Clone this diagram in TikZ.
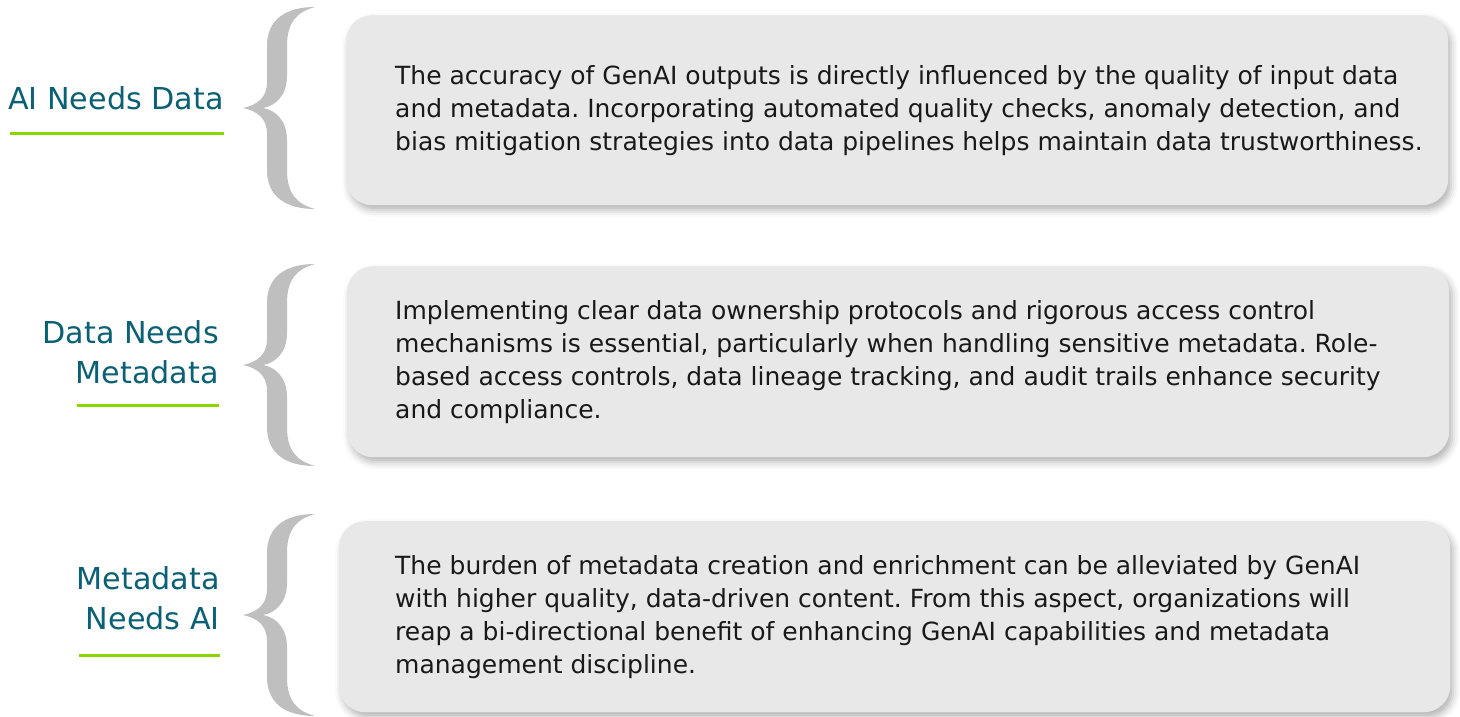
\documentclass[tikz,border=0pt]{standalone}
\usepackage{fontspec}
\setmainfont{DejaVu Sans}
\frenchspacing
\usetikzlibrary{positioning, shadows.blur}
\definecolor{tealText}{RGB}{10,96,116}
\definecolor{limeLine}{RGB}{140,214,0}
\definecolor{braceGray}{RGB}{191,191,191}
\definecolor{boxFill}{RGB}{232,232,232}
\newcommand*{\curlyBrace}[2]{% tip x, tip y
    \fill [braceGray, shift={(#1,#2)}] (0,0) .. controls (14,-3) and (24,-10) .. (24,-26) -- (24,-62)
        .. controls (24,-88) and (42,-101) .. (72,-101) .. controls (54,-96) and (44,-86) .. (44,-62) -- (44,-32)
        .. controls (44,-12) and (32,-2) .. (20,0) .. controls (32,2) and (44,12) .. (44,32) -- (44,62)
        .. controls (44,86) and (54,96) .. (72,101) .. controls (42,101) and (24,88) .. (24,62) -- (24,26)
        .. controls (24,10) and (14,3) .. (0,0) -- cycle;
}
\tikzset{
    infobox/.style={rectangle, rounded corners=26pt, fill=boxFill, anchor=north west, inner sep=0pt,
        blur shadow={shadow xshift=3pt, shadow yshift=-5pt, shadow blur radius=7pt, shadow opacity=30}},
    bodytext/.style={align=left, inner sep=0pt, anchor=west, text=black!90,
        font=\fontsize{25pt}{33pt}\selectfont},
    labeltext/.style={align=right, inner sep=0pt, anchor=base east, text=tealText,
        font=\fontsize{30.2pt}{40pt}\selectfont},
    underline/.style={limeLine, line width=3pt}
}

\begin{document}
\begin{tikzpicture}[x=1pt, y=-1pt]
\useasboundingbox (0,0) rectangle (1460,717);
% boxes
\node (box1) [infobox, minimum width=1102pt, minimum height=190pt] at (346,15) {};
\node (box2) [infobox, minimum width=1102pt, minimum height=191pt] at (347,266) {};
\node (box3) [infobox, minimum width=1111pt, minimum height=191pt] at (339,521) {};
\node (txt1) [bodytext, right=49pt of box1.west] {The accuracy of GenAI outputs is directly influenced by the quality of input data\\
and metadata. Incorporating automated quality checks, anomaly detection, and\\
bias mitigation strategies into data pipelines helps maintain data trustworthiness.};
\node (txt2) [bodytext, right=48pt of box2.west] {Implementing clear data ownership protocols and rigorous access control\\
mechanisms is essential, particularly when handling sensitive metadata. Role-\\
based access controls, data lineage tracking, and audit trails enhance security\\
and compliance.};
\node (txt3) [bodytext, right=56pt of box3.west] {The burden of metadata creation and enrichment can be alleviated by GenAI\\
with higher quality, data-driven content. From this aspect, organizations will\\
reap a bi-directional benefit of enhancing GenAI capabilities and metadata\\
management discipline.};
% braces
\curlyBrace{243}{108}
\curlyBrace{243}{365}
\curlyBrace{243}{615}
% labels
\node (lab1) [labeltext] at (224,110) {AI Needs Data};
\node (lab2) [labeltext] at (219,383) {Data Needs\\Metadata};
\node (lab3) [labeltext] at (220,629) {Metadata\\Needs AI};
\coordinate (u1a) at (10,133);  \coordinate (u1b) at (224,133);
\coordinate (u2a) at (77,405);  \coordinate (u2b) at (219,405);
\coordinate (u3a) at (79,655);  \coordinate (u3b) at (220,655);
\draw [underline] (u1a) -- (u1b);
\draw [underline] (u2a) -- (u2b);
\draw [underline] (u3a) -- (u3b);
\end{tikzpicture}
\end{document}
